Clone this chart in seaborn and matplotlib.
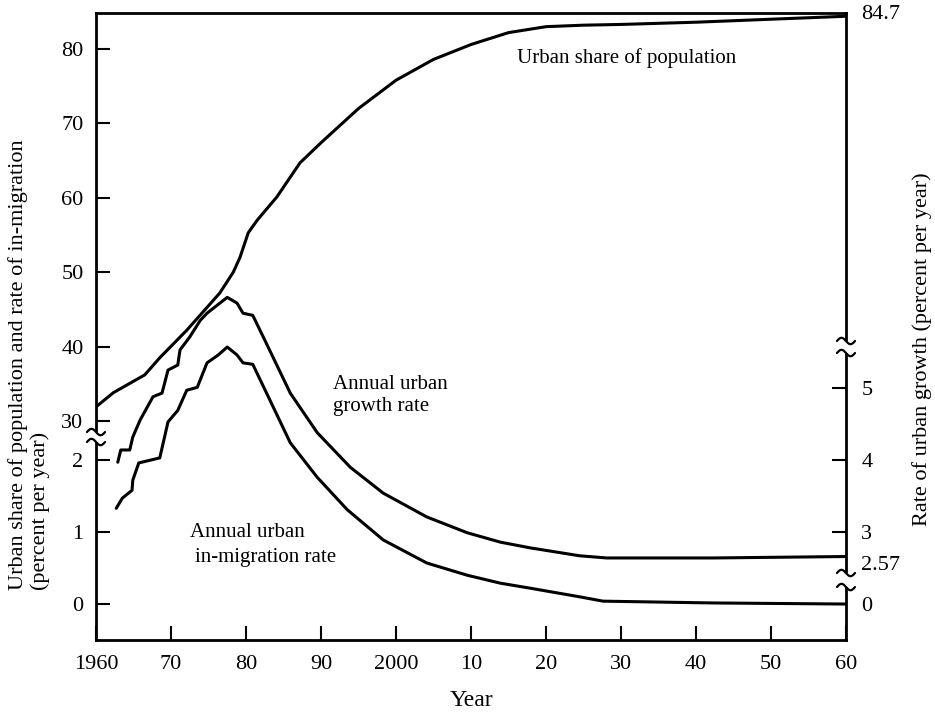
import numpy as np
import pandas as pd
import matplotlib
matplotlib.use("Agg")
import matplotlib.pyplot as plt
import matplotlib.transforms as mtransforms
from matplotlib.patches import Rectangle
from matplotlib.lines import Line2D
import seaborn as sns

# ---------------- data ----------------
share_years = [1960, 1962.3, 1966.5, 1968.5, 1972.1, 1976.5, 1978.3, 1979.2, 1980.3,
               1981.5, 1984.1, 1987.2, 1990, 1995, 2000, 2005, 2010, 2015, 2020,
               2025, 2030, 2040, 2050, 2060]
share_values = [31.9, 33.8, 36.2, 38.5, 42.2, 47.2, 50.0, 52.0, 55.3,
                57.0, 60.1, 64.7, 67.4, 72.0, 75.8, 78.6, 80.6, 82.2, 83.0,
                83.2, 83.3, 83.6, 84.0, 84.4]

growth_years = [1962.9, 1963.3, 1964.5, 1964.9, 1965.9, 1967.6, 1968.8, 1969.6, 1970.9,
                1971.2, 1972.5, 1973.9, 1974.8, 1975.9, 1977.5, 1978.8, 1979.6, 1980.9,
                1982.3, 1985.9, 1989.5, 1993.9, 1998.3, 2004.1, 2009.5, 2013.9, 2017.9,
                2024.5, 2028.1, 2042.3, 2060]
growth_values = [3.97, 4.14, 4.14, 4.32, 4.56, 4.88, 4.93, 5.25, 5.32,
                 5.53, 5.71, 5.94, 6.04, 6.13, 6.26, 6.18, 6.04, 6.01,
                 5.71, 4.93, 4.38, 3.90, 3.54, 3.21, 2.99, 2.86, 2.78,
                 2.67, 2.64, 2.64, 2.66]

migr_years = [1962.7, 1963.5, 1964.8, 1964.9, 1965.7, 1968.5, 1969.6, 1970.9, 1972.1,
              1973.5, 1974.8, 1976.3, 1977.5, 1978.8, 1979.6, 1980.9, 1983.2, 1985.9,
              1989.5, 1993.5, 1998.3, 2004.1, 2009.5, 2013.9, 2017.9, 2024.5, 2027.6,
              2042.3, 2060]
migr_values = [1.33, 1.47, 1.58, 1.72, 1.96, 2.03, 2.53, 2.69, 2.97,
               3.01, 3.35, 3.46, 3.57, 3.46, 3.35, 3.33, 2.83, 2.24,
               1.76, 1.31, 0.89, 0.57, 0.40, 0.29, 0.22, 0.10, 0.04,
               0.015, 0.0]

x_ticks = [1960, 1970, 1980, 1990, 2000, 2010, 2020, 2030, 2040, 2050, 2060]
x_tick_labels = ["1960", "70", "80", "90", "2000", "10", "20", "30", "40", "50", "60"]
share_ticks = [30, 40, 50, 60, 70, 80]
migr_ticks = [0, 1, 2]
growth_ticks = [3, 4, 5]
growth_extra_ticks = [2, 2.57]
growth_extra_labels = ["0", "2.57"]

# ---------------- style ----------------
sns.set_theme(style="white")
plt.rcParams["font.family"] = ["Liberation Serif", "DejaVu Serif"]
plt.rcParams["text.color"] = "black"
plt.rcParams["axes.labelcolor"] = "black"
plt.rcParams["xtick.color"] = "black"
plt.rcParams["ytick.color"] = "black"

FS_TICK = 16
FS_TEXT = 15
FS_LABEL = 16
LW = 2.2

fig = plt.figure(figsize=(9.35, 7.21), dpi=100)
ax = fig.add_axes([0.1027, 0.1123, 0.8021, 0.8697])
ax_rate = ax.twinx()
ax_growth = ax.twinx()

share_df = pd.DataFrame({"year": share_years, "value": share_values})
growth_df = pd.DataFrame({"year": growth_years, "value": growth_values})
migr_df = pd.DataFrame({"year": migr_years, "value": migr_values})

sns.lineplot(data=share_df, x="year", y="value", ax=ax, color="black", lw=LW, estimator=None)
sns.lineplot(data=migr_df, x="year", y="value", ax=ax_rate, color="black", lw=LW, estimator=None)
sns.lineplot(data=growth_df, x="year", y="value", ax=ax_growth, color="black", lw=LW, estimator=None)

ax.set_xlim(1960, 2060)
ax.set_ylim(0.56, 84.84)
ax_rate.set_ylim(-0.5, 8.21)
ax_growth.set_ylim(1.5, 10.21)

for a in (ax, ax_rate, ax_growth):
    a.set_ylabel("")
    a.grid(False)

# spines
for s in ax.spines.values():
    s.set_visible(True)
    s.set_color("black")
    s.set_linewidth(2.0)
for a in (ax_rate, ax_growth):
    for s in a.spines.values():
        s.set_visible(False)

# x axis
ax.set_xticks(x_ticks)
ax.set_xticklabels(x_tick_labels)
ax.tick_params(axis="x", direction="in", length=10, width=1.5, labelsize=FS_TICK,
               pad=11, bottom=True, top=False)
ax.set_xlabel("Year", fontsize=17, labelpad=11)

# left: urban share ticks
ax.set_yticks(share_ticks)
ax.tick_params(axis="y", direction="in", length=10, width=1.5, labelsize=FS_TICK,
               pad=9, left=True, right=False, labelleft=True, labelright=False)

# left: in-migration ticks (lower section)
ax_rate.yaxis.tick_left()
ax_rate.set_yticks(migr_ticks)
ax_rate.tick_params(axis="y", direction="in", length=10, width=1.5, labelsize=FS_TICK,
                    pad=9, left=True, right=False, labelleft=True, labelright=False)

# right: growth ticks
ax_growth.set_yticks(growth_ticks)
ax_growth.set_yticks(growth_extra_ticks, minor=True)
ax_growth.set_yticklabels(growth_extra_labels, minor=True)
ax_growth.tick_params(axis="y", which="both", direction="in", labelsize=FS_TICK,
                      pad=11, right=True, left=False, labelright=True, labelleft=False)
ax_growth.tick_params(axis="y", which="major", length=10, width=1.5)
ax_growth.tick_params(axis="y", which="minor", length=0)

# 84.7 label at top right
blend = mtransforms.blended_transform_factory(ax.transAxes, ax.transData)
ax.annotate("84.7", xy=(1.0, 84.7), xycoords=blend, xytext=(11, 0),
            textcoords="offset points", ha="left", va="center", fontsize=FS_TICK,
            annotation_clip=False)

# axis breaks
def axis_break(host, top_ax, xfrac, y_top, y_bot):
    top_ax.add_patch(Rectangle((xfrac - 0.005, y_bot), 0.01, y_top - y_bot,
                               transform=host.transAxes, facecolor="white",
                               edgecolor="none", clip_on=False, zorder=5))
    t = np.linspace(-1, 1, 40)
    xs = 6.5 * t
    ys = -2.3 * np.sin(np.pi * t)
    for yf in (y_top, y_bot):
        trans = (mtransforms.Affine2D().scale(fig.dpi / 72.0)
                 + mtransforms.ScaledTranslation(xfrac, yf, host.transAxes))
        top_ax.add_line(Line2D(xs, ys, transform=trans, color="black", lw=1.6,
                               clip_on=False, zorder=6))

axis_break(ax, ax_growth, 0.0, 0.3317, 0.3158)
axis_break(ax, ax_growth, 1.0, 0.4769, 0.4577)
axis_break(ax, ax_growth, 1.0, 0.1069, 0.0845)

# annotations
ax.text(0.561, 0.928, "Urban share of population", transform=ax.transAxes,
        ha="left", va="center", fontsize=FS_TEXT)
ax.text(0.316, 0.390, "Annual urban\ngrowth rate", transform=ax.transAxes,
        ha="left", va="center", fontsize=FS_TEXT, linespacing=1.2)
ax.text(0.1253, 0.1707, "Annual urban", transform=ax.transAxes,
        ha="left", va="center", fontsize=FS_TEXT)
ax.text(0.132, 0.131, "in-migration rate", transform=ax.transAxes,
        ha="left", va="center", fontsize=FS_TEXT)

# axis titles
fig.text(0.031, 0.182,
         "Urban share of population and rate of in-migration\n(percent per year)",
         rotation=90, ha="center", va="bottom", multialignment="left",
         fontsize=FS_LABEL, linespacing=1.1)
fig.text(0.986, 0.516, "Rate of urban growth (percent per year)", rotation=90,
         ha="center", va="center", fontsize=FS_LABEL)

fig.savefig("out.png", dpi=100)
